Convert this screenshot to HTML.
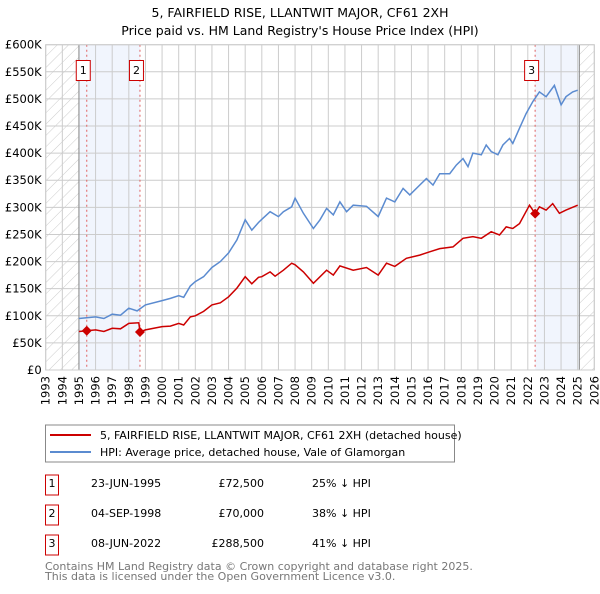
<!DOCTYPE html>
<html><head><meta charset="utf-8"><style>
body{margin:0;background:#fff;font-family:"DejaVu Sans","Liberation Sans",sans-serif;}
svg text{font-family:"DejaVu Sans","Liberation Sans",sans-serif;}
</style></head><body>
<svg id="c" width="600" height="590" xmlns="http://www.w3.org/2000/svg">
<defs><pattern id="hatch" width="8" height="8" patternUnits="userSpaceOnUse" patternTransform="rotate(45)"><line x1="0" y1="0" x2="0" y2="8" stroke="#ccc" stroke-width="1"/></pattern></defs>
<text x="300" y="17" text-anchor="middle" font-size="12.5">5, FAIRFIELD RISE, LLANTWIT MAJOR, CF61 2XH</text>
<text x="300" y="35" text-anchor="middle" font-size="12.5">Price paid vs. HM Land Registry's House Price Index (HPI)</text>
<g id="plot"></g>
<rect x="45.5" y="425" width="409" height="37" fill="#fff" stroke="#888"/>
<line x1="50" y1="435" x2="91" y2="435" stroke="#cc0000" stroke-width="2"/>
<text x="100" y="439" font-size="11">5, FAIRFIELD RISE, LLANTWIT MAJOR, CF61 2XH (detached house)</text>
<line x1="50" y1="452" x2="91" y2="452" stroke="#5b8bd0" stroke-width="2"/>
<text x="100" y="456" font-size="11">HPI: Average price, detached house, Vale of Glamorgan</text>
<g font-size="11">
<rect x="45.5" y="475" width="13" height="20" fill="#fff" stroke="#cc0000"/><text x="52" y="487" text-anchor="middle">1</text>
<text x="91" y="487">23-JUN-1995</text><text x="264" y="487" text-anchor="end">£72,500</text><text x="312" y="487">25% ↓ HPI</text>
<rect x="45.5" y="505" width="13" height="20" fill="#fff" stroke="#cc0000"/><text x="52" y="517" text-anchor="middle">2</text>
<text x="91" y="517">04-SEP-1998</text><text x="264" y="517" text-anchor="end">£70,000</text><text x="312" y="517">38% ↓ HPI</text>
<rect x="45.5" y="535" width="13" height="20" fill="#fff" stroke="#cc0000"/><text x="52" y="547" text-anchor="middle">3</text>
<text x="91" y="547">08-JUN-2022</text><text x="264" y="547" text-anchor="end">£288,500</text><text x="312" y="547">41% ↓ HPI</text>
</g>
<text x="45" y="570" font-size="11" fill="#777">Contains HM Land Registry data © Crown copyright and database right 2025.</text>
<text x="45" y="580" font-size="11" fill="#777">This data is licensed under the Open Government Licence v3.0.</text>
</svg>
<script>
const hpiYears=[1995,1996,1996.5,1997,1997.5,1998,1998.5,1999,2000,2000.5,2001,2001.3,2001.7,2002,2002.5,2003,2003.5,2004,2004.5,2005,2005.4,2005.8,2006,2006.5,2007,2007.3,2007.8,2008,2008.5,2009.1,2009.5,2009.9,2010.3,2010.7,2011.1,2011.5,2012.3,2013,2013.5,2014,2014.5,2014.9,2015.5,2015.9,2016.3,2016.7,2017.3,2017.7,2018.1,2018.4,2018.7,2019.2,2019.5,2019.8,2020.2,2020.5,2020.9,2021.1,2021.5,2021.9,2022.3,2022.7,2023.1,2023.6,2024,2024.3,2024.7,2025];
const hpiValues=[95,98,95,103,101,114,109,120,128,132,137,134,155,163,172,189,200,216,240,277,258,272,278,292,283,292,301,317,289,261,277,298,286,310,292,304,302,283,317,310,335,323,341,353,341,362,362,378,390,375,400,397,415,403,397,415,427,418,446,473,495,513,504,525,489,504,513,516];
const priceYears=[1995,1995.47,1996,1996.5,1997,1997.5,1998,1998.6,1998.67,1999,2000,2000.5,2001,2001.3,2001.7,2002,2002.5,2003,2003.5,2004,2004.5,2005,2005.4,2005.8,2006,2006.5,2006.8,2007.3,2007.8,2008,2008.5,2009.1,2009.9,2010.3,2010.7,2011.5,2012.3,2013,2013.5,2014,2014.7,2015.5,2016.1,2016.7,2017.5,2018.1,2018.7,2019.2,2019.8,2020.3,2020.7,2021.1,2021.5,2022.1,2022.44,2022.7,2023.1,2023.5,2023.9,2024.3,2025];
const priceValues=[71,72.5,74,71,77,76,86,87,70,74,80,81,86,83,98,100,108,120,124,135,151,172,159,171,172,181,173,184,197,194,181,160,184,175,192,184,189,175,197,191,206,212,218,224,227,243,246,243,255,249,264,261,270,304,288.5,301,295,307,289,295,304];
const saleYears=[1995.47,1998.67,2022.44];
const saleValues=[72.5,70,288.5];
const saleLabels=["1","2","3"];
const yTicks=[0,50,100,150,200,250,300,350,400,450,500,550,600];
const yTickLabels=["£0","£50K","£100K","£150K","£200K","£250K","£300K","£350K","£400K","£450K","£500K","£550K","£600K"];
const xTicks=[1993,1994,1995,1996,1997,1998,1999,2000,2001,2002,2003,2004,2005,2006,2007,2008,2009,2010,2011,2012,2013,2014,2015,2016,2017,2018,2019,2020,2021,2022,2023,2024,2025,2026];

const X0=45.7,X1=594.3,Y0=370,Y1=44.7;
const xs=y=>X0+(y-1993)/(2026-1993)*(X1-X0);
const ys=v=>Y0-v/600*(Y0-Y1);
const NS="http://www.w3.org/2000/svg";
const g=document.getElementById('plot');
function mk(t,a){const e=document.createElementNS(NS,t);for(const k in a)e.setAttribute(k,a[k]);g.appendChild(e);return e;}
let e;
e=mk('rect',{x:X0,y:Y1,width:X1-X0,height:Y0-Y1,fill:'#fff'});


e=mk('rect',{x:X0,y:Y1,width:xs(1995)-X0,height:Y0-Y1,fill:'url(#hatch)'});


e=mk('rect',{x:xs(2025.1),y:Y1,width:X1-xs(2025.1),height:Y0-Y1,fill:'url(#hatch)'});


e=mk('rect',{x:xs(1995),y:Y1,width:xs(1998.67)-xs(1995),height:Y0-Y1,fill:'#eef3fc',opacity:0.8});


e=mk('rect',{x:xs(2022.44),y:Y1,width:xs(2025.1)-xs(2022.44),height:Y0-Y1,fill:'#eef3fc',opacity:0.8});


yTicks.forEach((v,i)=>{
 e=mk('line',{x1:X0,x2:X1,y1:ys(v),y2:ys(v),stroke:'#ccc','stroke-width':1});
 
 
 e=mk('text',{x:X0-4,y:ys(v)+4,'text-anchor':'end','font-size':11.5});
 e.textContent=yTickLabels[i];
 
 
});
xTicks.forEach(yr=>{
 e=mk('line',{x1:xs(yr),x2:xs(yr),y1:Y1,y2:Y0,stroke:'#ccc','stroke-width':1});
 
 
 e=mk('text',{x:0,y:0,'text-anchor':'end','font-size':11.5,transform:`translate(${xs(yr)+4},${Y0+6}) rotate(-90)`});
 e.textContent=yr;
 
 
});
e=mk('line',{x1:xs(1995),x2:xs(1995),y1:Y1,y2:Y0,stroke:'#888'});


e=mk('line',{x1:xs(2025.1),x2:xs(2025.1),y1:Y1,y2:Y0,stroke:'#888'});


saleYears.forEach((yr,i)=>{
 e=mk('line',{x1:xs(yr),x2:xs(yr),y1:Y1,y2:Y0,stroke:'#e06060','stroke-dasharray':'2,3'});
 
 
});
function path(xa,va){return xa.map((x,i)=>(i?'L':'M')+xs(x).toFixed(1)+','+ys(va[i]).toFixed(1)).join('');}
e=mk('path',{d:path(hpiYears,hpiValues),fill:'none',stroke:'#5b8bd0','stroke-width':1.5});


e=mk('path',{d:path(priceYears,priceValues),fill:'none',stroke:'#cc0000','stroke-width':1.5});


saleYears.forEach((yr,i)=>{
 const cx=xs(yr),cy=ys(saleValues[i]);
 e=mk('path',{d:`M${cx-5},${cy}L${cx},${cy-5}L${cx+5},${cy}L${cx},${cy+5}Z`,fill:'#cc0000'});
 
 
 e=mk('rect',{x:cx-10.5,y:60.5,width:14,height:20,fill:'#fff',stroke:'#cc0000'});
 
 
 e=mk('text',{x:cx-3.5,y:74,'text-anchor':'middle','font-size':11});
 e.textContent=saleLabels[i];
 
 
});
e=mk('rect',{x:X0,y:Y1,width:X1-X0,height:Y0-Y1,fill:'none',stroke:'#ccc'});


</script>
</body></html>
